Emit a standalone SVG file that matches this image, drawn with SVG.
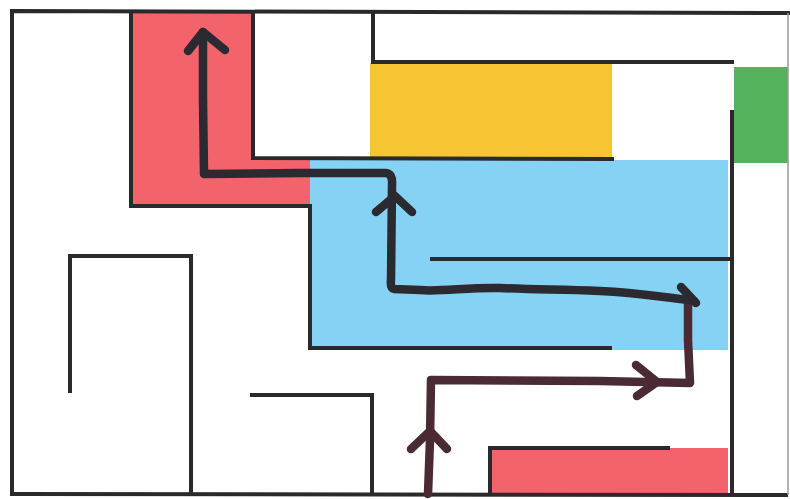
<svg xmlns="http://www.w3.org/2000/svg" width="790" height="499" viewBox="0 0 790 499">
<style>
.wall{fill:none;stroke:#2a2a2c;stroke-width:4;stroke-linecap:square;stroke-linejoin:miter}
.path{fill:none;stroke-width:8.5;stroke-linecap:round;stroke-linejoin:round}
.dark{stroke:#2b2a30}
.maroon{stroke:#4a2a33}
</style>
<rect width="790" height="499" fill="#ffffff"/>
<g id="fills">
<polygon points="131,12 253,12 253,158 310,158 310,206 131,206" fill="#f2636b"/>
<rect x="310" y="160" width="418" height="190" fill="#86d2f4"/>
<rect x="370" y="63" width="242" height="95" fill="#f7c433"/>
<rect x="734" y="67" width="54" height="96" fill="#55b25c"/>
<rect x="490" y="448" width="238" height="46" fill="#f2636b"/>
</g>
<g id="walls">
<polyline class="wall" points="12,494 12,11 788,13"/>
<line x1="12" y1="494" x2="788" y2="495" stroke="#2a2a2c" stroke-width="4"/>
<line x1="788" y1="13" x2="788" y2="495" stroke="#9a9a9a" stroke-width="1.5"/>
<polyline class="wall" points="131,12 131,206 310,206 310,348 610,348"/>
<polyline class="wall" points="253,12 253,158 612,159"/>
<polyline class="wall" points="373,12 373,62 732,62"/>
<line class="wall" x1="732" y1="112" x2="732" y2="494"/>
<line class="wall" x1="432" y1="259" x2="732" y2="259"/>
<polyline class="wall" points="70,391 70,256 191,256 191,494"/>
<polyline class="wall" points="252,395 372,395 372,494"/>
<polyline class="wall" points="490,494 490,448 668,448"/>
</g>
<g id="connectors">
<path class="path maroon" d="M428,494 L430,440 L431,380 L600,381 L690,383 L688,340 L688,298"/>
<polyline class="path maroon" points="411,449 430,431 447,449"/>
<polyline class="path maroon" points="636,365 657,382 637,396"/>
<line class="path dark" x1="681" y1="287" x2="696" y2="303"/>
<path class="path dark" d="M690,300 C660,297 640,293 600,291 C560,289 540,290 500,288 C470,287 440,292 420,290 L394,289 Q390,288 391,280 L392,185 Q393,173 385,173 L300,173 L204,174 L203,100 L203,32"/>
<polyline class="path dark" points="376,212 395,196 412,212"/>
<polyline class="path dark" points="188,51 203,32 225,50"/>
</g>
</svg>
